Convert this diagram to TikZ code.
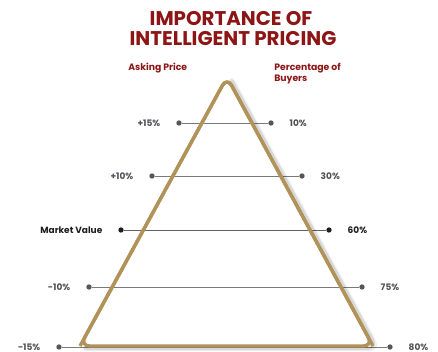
\documentclass[tikz,border=0pt]{standalone}
\usepackage{fontspec}
\setmainfont{Poppins}
\usetikzlibrary{positioning}
\definecolor{pricered}{HTML}{8E1515}
\definecolor{gold}{HTML}{B1935A}
\definecolor{rulegrey}{HTML}{7A7A7A}
\definecolor{dotgrey}{HTML}{55565A}
\definecolor{textgrey}{HTML}{505155}
\definecolor{mvblack}{HTML}{1E1E1E}

\begin{document}
\begin{tikzpicture}[x = 0.025cm, y = -0.025cm, node distance = 10pt,
  dot/.style = {circle, fill = dotgrey, inner sep = 0pt, minimum size = 3.8pt},
  lbl/.style = {inner sep = 1pt, font = \bfseries\fontsize{6.4}{7.5}\selectfont, text = textgrey},
  head/.style = {align = left, inner sep = 0pt, font = \bfseries\fontsize{6.6}{7.8}\selectfont, text = pricered}]

	\useasboundingbox (0, 0) rectangle (438, 352);

	% title and column heads
	\node (T1) at (231, 19) [font = \bfseries\fontsize{14.1}{15}\selectfont, text = pricered] {IMPORTANCE OF};
	\node (T2) at (233, 39) [font = \bfseries\fontsize{14.1}{15}\selectfont, text = pricered] {INTELLIGENT PRICING};
	\node (ASK) at (128, 68) [head, anchor = west] {Asking Price};
	\node (BUY) at (274, 74) [head, anchor = west] {Percentage of\\Buyers};

	% price levels
	\foreach \name/\y/\xl/\xr/\ask/\buy in {a/123/179/271/+15\%/10\%, b/176/152/302/+10\%/30\%,
	d/287/89/362/-10\%/75\%, e/347/59/390/-15\%/80\%} {
		\node (l\name) at (\xl, \y) [dot] {};
		\node (r\name) at (\xr, \y) [dot] {};
		\draw [rulegrey, line width = 0.7pt] (l\name) -- (r\name);
		\node [lbl, left = of l\name] {\ask};
		\node [lbl, right = of r\name] {\buy};
	}
	\node (lc) at (121, 230) [dot, fill = mvblack] {};
	\node (rc) at (329, 230) [dot, fill = mvblack] {};
	\draw [rulegrey!80!black, line width = 0.7pt] (lc) -- (rc);
	\node [lbl, text = mvblack, left = of lc] {Market Value};
	\node [lbl, text = mvblack, right = of rc] {60\%};

	% pyramid
	\coordinate (top) at (227, 77);
	\coordinate (bl) at (80, 346);
	\coordinate (br) at (373, 346);
	\foreach \op/\sh in {0.06/4, 0.1/2.5}
		\draw [black, opacity = \op, line width = 3pt, rounded corners = 7pt]
			([xshift = \sh pt, yshift = -0.6*\sh pt]top) -- ([xshift = \sh pt, yshift = -0.6*\sh pt]br) -- ([xshift = \sh pt, yshift = -0.6*\sh pt]bl);
	\draw [gold, line width = 2.4pt, rounded corners = 7pt] (top) -- (br) -- (bl) -- cycle;
	\draw [gold, line width = 2.4pt, rounded corners = 7pt] (bl) -- (top) -- (br);

\end{tikzpicture}
\end{document}
